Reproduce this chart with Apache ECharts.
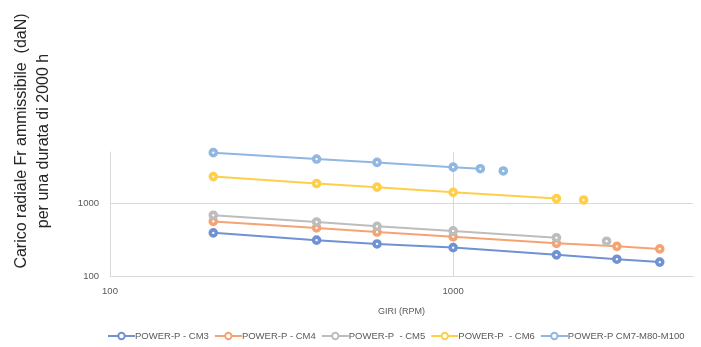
<!DOCTYPE html>
<html>
<head>
<meta charset="utf-8">
<script src="https://cdn.jsdelivr.net/npm/echarts@6/dist/echarts.min.js"></script>
<style>
html,body{margin:0;padding:0;background:#fff;}
#chart{width:701px;height:347px;}
</style>
</head>
<body>
<div id="chart"></div>
<script>
// Data (null marks a break in the line)
const seriesNames = ['POWER-P - CM3', 'POWER-P - CM4', 'POWER-P  - CM5', 'POWER-P  - CM6', 'POWER-P CM7-M80-M100'];
const cm3Rpm = [200, 400, 600, 1000, 2000, 3000, 4000];
const cm3Load = [390, 310, 275, 245, 195, 170, 155];
const cm4Rpm = [200, 400, 600, 1000, 2000, 3000, 4000];
const cm4Load = [560, 455, 400, 345, 280, 255, 235];
const cm5Rpm = [200, 400, 600, 1000, 2000, null, 2800];
const cm5Load = [680, 550, 480, 415, 335, null, 300];
const cm6Rpm = [200, 400, 600, 1000, 2000, null, 2400];
const cm6Load = [2300, 1850, 1650, 1400, 1150, null, 1100];
const cm7Rpm = [200, 400, 600, 1000, 1200, null, 1400];
const cm7Load = [4900, 4000, 3600, 3100, 2950, null, 2750];
const xTickLabels = [100, 1000];
const yTickLabels = [100, 1000];
const yTitle = 'Carico radiale Fr ammissibile  (daN)\nper una durata di 2000 h';
const xTitle = 'GIRI (RPM)';

const colors = ['#7092d4', '#f4a474', '#bdbdbd', '#ffcf4a', '#8fb7e2'];

function zip(xs, ys) {
  return xs.map((x, i) => (x === null || ys[i] === null) ? ['-', '-'] : [x, ys[i]]);
}
const allData = [zip(cm3Rpm, cm3Load), zip(cm4Rpm, cm4Load), zip(cm5Rpm, cm5Load), zip(cm6Rpm, cm6Load), zip(cm7Rpm, cm7Load)];

const chart = echarts.init(document.getElementById('chart'), null, {renderer: 'canvas'});
const labelColor = '#595959';
const gridColor = '#d9d9d9';

chart.setOption({
  animation: false,
  color: colors,
  grid: {left: 110, right: 8, top: 152, bottom: 71, containLabel: false},
  xAxis: {
    type: 'log', logBase: 10, min: 100, max: 5000,
    name: xTitle, nameLocation: 'middle', nameGap: 31,
    nameTextStyle: {fontSize: 9, color: labelColor, fontFamily: 'Liberation Sans'},
    axisLine: {show: true, lineStyle: {color: gridColor, width: 1}},
    axisTick: {show: false},
    splitLine: {show: true, showMinLine: false, showMaxLine: false, lineStyle: {color: gridColor, width: 1}},
    axisLabel: {
      color: labelColor, fontSize: 9.5, fontFamily: 'Liberation Sans', margin: 10,
      showMaxLabel: false,
      formatter: v => xTickLabels.indexOf(Math.round(v)) >= 0 ? String(Math.round(v)) : ''
    }
  },
  yAxis: {
    type: 'log', logBase: 10, min: 100, max: 5000,
    axisLine: {show: true, lineStyle: {color: gridColor, width: 1}},
    axisTick: {show: false},
    splitLine: {show: true, showMinLine: false, showMaxLine: false, lineStyle: {color: gridColor, width: 1}},
    axisLabel: {
      color: labelColor, fontSize: 9.5, fontFamily: 'Liberation Sans', margin: 11,
      showMaxLabel: false,
      formatter: v => yTickLabels.indexOf(Math.round(v)) >= 0 ? String(Math.round(v)) : ''
    }
  },
  legend: {
    bottom: 1, left: 102,
    itemWidth: 27, itemHeight: 8, itemGap: 5,
    textStyle: {color: labelColor, fontSize: 9.5, fontFamily: 'Liberation Sans', padding: [0, 0, 0, -5]},
    data: seriesNames
  },
  graphic: [{
    type: 'text', x: 33, y: 141, rotation: Math.PI / 2,
    style: {
      text: yTitle, fill: '#262626', fontSize: 16, lineHeight: 22,
      fontFamily: 'Liberation Sans', align: 'center', verticalAlign: 'middle'
    }
  }],
  series: seriesNames.map((n, i) => ({
    name: n, type: 'line', data: allData[i],
    connectNulls: false,
    symbol: 'circle', symbolSize: 6,
    lineStyle: {width: 2, color: colors[i]},
    itemStyle: {color: '#ffffff', borderColor: colors[i], borderWidth: 3.6},
    emphasis: {disabled: true}
  }))
});
</script>
</body>
</html>
